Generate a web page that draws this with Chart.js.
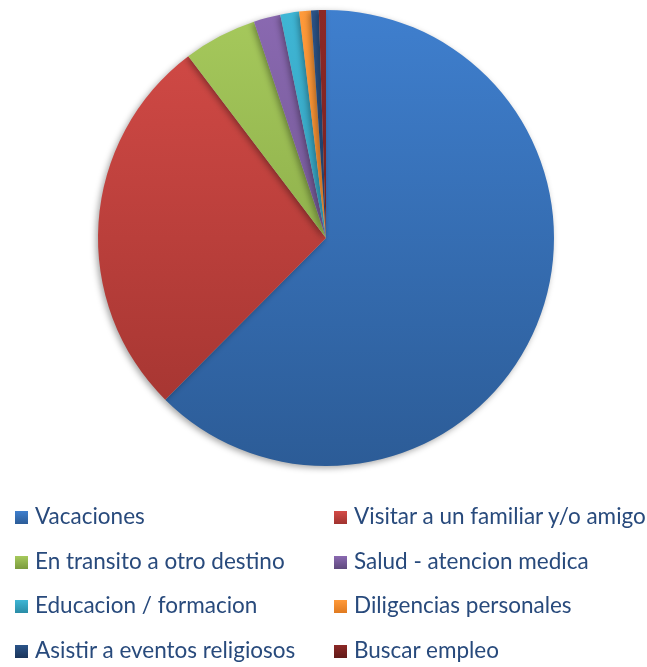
<!DOCTYPE html>
<html>
<head>
<meta charset="utf-8">
<script src="https://cdn.jsdelivr.net/npm/chart.js@4.4.1/dist/chart.umd.min.js"></script>
<style>
  body { margin: 0; background: #fff; }
  #wrap { position: relative; width: 647px; height: 667px; }
  #chart { position: absolute; left: 0; top: 0; }
  #legend { position: absolute; left: 0; top: 0; width: 647px; height: 667px; }
  .item { position: absolute; font-family: Lato, "Open Sans", sans-serif; font-size: 22.5px; color: #284a7c; white-space: nowrap; }
  .item span.box { position: absolute; left: 0; width: 13px; height: 13px; }
  .item span.txt { position: absolute; left: 20px; top: -9px; }
</style>
</head>
<body>
<div id="wrap">
  <canvas id="chart" width="647" height="476"></canvas>
  <div id="legend"></div>
</div>
<script>
// data (share of answers, %)
var labels = ['Vacaciones', 'Visitar a un familiar y/o amigo', 'En transito a otro destino',
    'Salud - atencion medica', 'Educacion / formacion', 'Diligencias personales',
    'Asistir a eventos religiosos', 'Buscar empleo'];
var values = [62.4, 27.2, 5.2, 1.9, 1.33, 0.83, 0.55, 0.5];

// light / dark ends of each gradient fill
var lightColors = ['#3f7fce', '#d44b47', '#a6c95c', '#8a69b1', '#3fb6d5', '#ff9a3a', '#2b5489', '#8c2826'];
var darkColors  = ['#2c5c97', '#a0332f', '#7b9b3d', '#5f4a7d', '#2a8ca6', '#e07a20', '#1a355a', '#611a18'];

window.addEventListener('load', function() {

    function sliceFill(context) {
        var chart = context.chart;
        var area = chart.chartArea;
        if (!area) return lightColors[context.dataIndex];
        var g = chart.ctx.createLinearGradient(0, area.top, 0, area.bottom);
        g.addColorStop(0, lightColors[context.dataIndex]);
        g.addColorStop(1, darkColors[context.dataIndex]);
        return g;
    }

    var shadow = {
        id: 'shadow',
        beforeDatasetDraw: function(chart) {
            chart.ctx.save();
            chart.ctx.shadowColor = 'rgba(0,0,0,0.35)';
            chart.ctx.shadowBlur = 6;
            chart.ctx.shadowOffsetX = -2;
            chart.ctx.shadowOffsetY = 2;
        },
        afterDatasetDraw: function(chart) {
            chart.ctx.restore();
        }
    };

    const ctx = document.getElementById('chart').getContext('2d');
    const chart = new Chart(ctx, {
        type: 'pie',
        data: {
            labels: labels,
            datasets: [{
                data: values,
                backgroundColor: sliceFill,
                borderWidth: 0
            }]
        },
        options: {
            responsive: false,
            animation: false,
            layout: { padding: { top: 10, bottom: 10, left: 5, right: 0 } },
            plugins: {
                legend: { display: false },
                tooltip: { enabled: false }
            }
        },
        plugins: [shadow]
    });

    // two-column legend under the pie
    var legend = document.getElementById('legend');
    for (let i = 0; i < labels.length; i++) {
        var col = i % 2;
        var row = Math.floor(i / 2);
        var item = document.createElement('div');
        item.className = 'item';
        item.style.left = (col === 0 ? 15 : 334) + 'px';
        item.style.top = (511 + row * 44.5) + 'px';
        var box = document.createElement('span');
        box.className = 'box';
        box.style.background = 'linear-gradient(' + lightColors[i] + ',' + darkColors[i] + ')';
        var txt = document.createElement('span');
        txt.className = 'txt';
        txt.textContent = labels[i];
        item.appendChild(box);
        item.appendChild(txt);
        legend.appendChild(item);
    }
});
</script>
</body>
</html>
